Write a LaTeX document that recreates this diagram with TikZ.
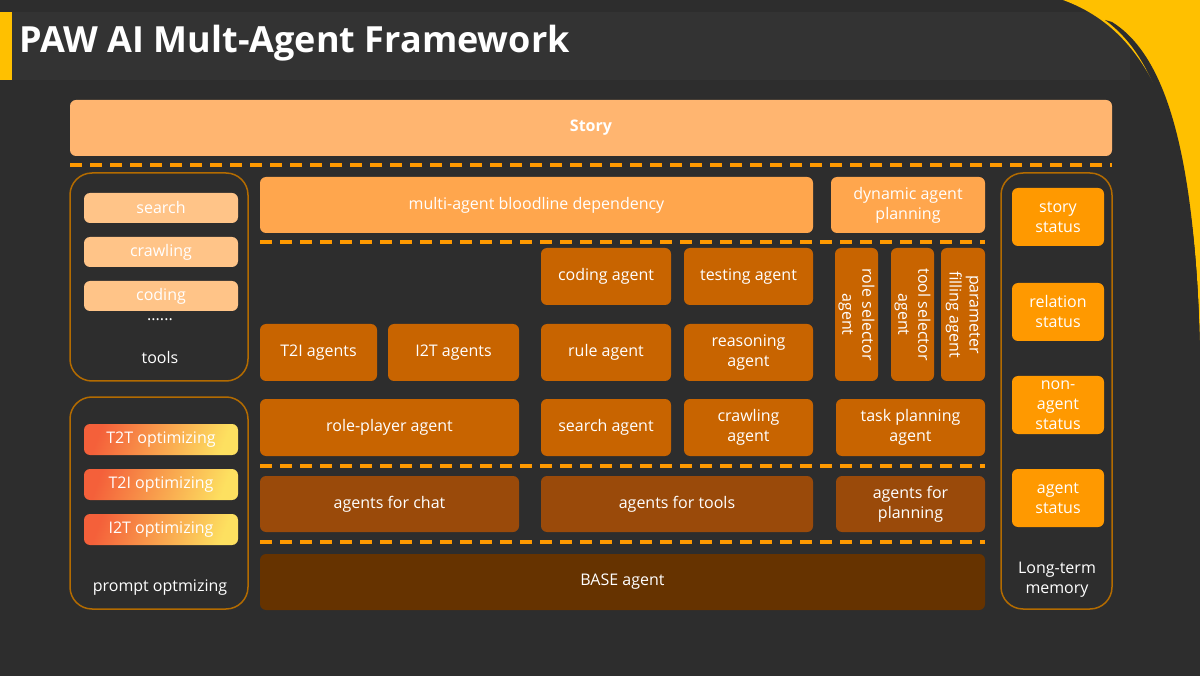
\documentclass[tikz,border=0pt]{standalone}
\usepackage{fontspec}
\setmainfont{Open Sans}
\definecolor{bgdark}{HTML}{2D2D2D}
\definecolor{band}{HTML}{333333}
\definecolor{gold}{HTML}{FFC000}
\definecolor{story}{HTML}{FFB570}
\definecolor{light}{HTML}{FFA64D}
\definecolor{pale}{HTML}{FFC488}
\definecolor{mid}{HTML}{C86400}
\definecolor{deep}{HTML}{9A4A0A}
\definecolor{base}{HTML}{663300}
\definecolor{memo}{HTML}{FF9900}
\definecolor{rim}{HTML}{B36B00}
\definecolor{dashcol}{HTML}{FF9900}
\definecolor{optA}{HTML}{F4603A}
\definecolor{optM}{HTML}{F9A848}
\definecolor{optB}{HTML}{FDE060}
\tikzset{
  blk/.style={rounded corners=6pt, inner sep=0pt, align=center, text=white,
    font=\fontsize{16}{20}\selectfont},
  panel/.style={draw=rim, line width=1.5pt, rounded corners=22pt},
  sep/.style={draw=dashcol, line width=4pt, dash pattern=on 12pt off 8pt},
  opt/.style={blk, left color=optA, middle color=optM, right color=optB, shading angle=70},
  lbl/.style={text=white, font=\fontsize{16}{20}\selectfont, align=center}
}
% box from corner (x1,y1) to (x2,y2)
\newcommand\blk[7][]{%
  \node[blk, fill=#2, minimum width={#5pt-#3pt}, minimum height={#6pt-#4pt}, #1]
    (#7) at ({(#3+#5)/2},{(#4+#6)/2}) {\csname txt#7\endcsname};}
% same, text turned to read downwards
\newcommand\vblk[6]{%
  \node[blk, fill=#1, rotate=-90, minimum width={#5pt-#3pt}, minimum height={#4pt-#2pt}]
    (#6) at ({(#2+#4)/2},{(#3+#5)/2}) {\csname txt#6\endcsname};}
\begin{document}
\begin{tikzpicture}[x=1pt, y=-1pt]
\fill[bgdark] (0,0) rectangle (1200,676);
\useasboundingbox (0,0) rectangle (1200,676);
% title band
\fill[band] (0,12) rectangle (1130,80);
\fill[gold] (0,12) rectangle (12,80);
\node[anchor=west, text=white, font=\fontsize{36}{40}\selectfont\bfseries] (title) at (16,43) {PAW AI Mult-Agent Framework};
% corner ornament
\fill[gold] (1063,0) .. controls (1160,35) and (1198,150) .. (1200,360) -- (1200,0) -- cycle;
\fill[bgdark] (1105,20) .. controls (1160,60) and (1188,150) .. (1192,360) -- (1200,360) -- (1200,350) .. controls (1195,150) and (1165,55) .. (1112,22) -- cycle;
% story
\def\txtstory{\bfseries Story}
\blk{story}{70}{100}{1112}{156}{story}
\draw[sep] (70,165) -- (1112,165);
% tools panel
\draw[panel] (70,173) rectangle (248,381);
\def\txtsearch{search}\def\txtcrawl{crawling}\def\txtcode{coding}
\blk{pale}{84}{193}{238}{223}{search}
\blk{pale}{84}{237}{238}{267}{crawl}
\blk{pale}{84}{281}{238}{311}{code}
\node[lbl] (dots) at (160,320) {......};
\node[lbl] (tools) at (160,357) {tools};
% prompt panel
\draw[panel] (70,397) rectangle (248,609);
\node[opt, minimum width=154pt, minimum height=31pt] (ttt) at (161,439.5) {T2T optimizing};
\node[opt, minimum width=154pt, minimum height=31pt] (tti) at (161,484.5) {T2I optimizing};
\node[opt, minimum width=154pt, minimum height=31pt] (itt) at (161,529.5) {I2T optimizing};
\node[lbl] (prompt) at (160,588) {prompt optmizing};
% central blocks
\def\txtblood{multi-agent bloodline dependency}
\def\txtdyn{dynamic agent\\planning}
\blk{light}{260}{177}{813}{233}{blood}
\blk{light}{831}{177}{985}{233}{dyn}
\draw[sep] (260,242) -- (985,242);
\def\txtcoding{coding agent}\def\txttesting{testing agent}
\blk{mid}{541}{248}{671}{305}{coding}
\blk{mid}{684}{248}{813}{305}{testing}
\def\txtrole{role selector\\agent}\def\txttool{tool selector\\agent}\def\txtparam{parameter\\filling agent}
\vblk{mid}{835}{248}{878}{381}{role}
\vblk{mid}{891}{248}{934}{381}{tool}
\vblk{mid}{941}{248}{985}{381}{param}
\def\txtttia{T2I agents}\def\txtitta{I2T agents}\def\txtrule{rule agent}\def\txtreason{reasoning\\agent}
\blk{mid}{260}{324}{377}{381}{ttia}
\blk{mid}{388}{324}{519}{381}{itta}
\blk{mid}{541}{324}{671}{381}{rule}
\blk{mid}{684}{324}{813}{381}{reason}
\def\txtplayer{role-player agent}\def\txtsagent{search agent}\def\txtcagent{crawling\\agent}\def\txttask{task planning\\agent}
\blk{mid}{260}{399}{519}{456}{player}
\blk{mid}{541}{399}{671}{456}{sagent}
\blk{mid}{684}{399}{813}{456}{cagent}
\blk{mid}{836}{399}{985}{456}{task}
\draw[sep] (260,466) -- (985,466);
\def\txtchat{agents for chat}\def\txtfortools{agents for tools}\def\txtplan{agents for\\planning}
\blk{deep}{260}{476}{519}{532}{chat}
\blk{deep}{541}{476}{813}{532}{fortools}
\blk{deep}{836}{476}{985}{532}{plan}
\draw[sep] (260,542) -- (985,542);
\def\txtbase{BASE agent}
\blk{base}{260}{554}{985}{610}{base}
% memory panel
\draw[panel] (1001,173) rectangle (1112,609);
\def\txtsst{story\\status}\def\txtrst{relation\\status}\def\txtnst{non-\\agent\\status}\def\txtast{agent\\status}
\blk{memo}{1012}{188}{1104}{246}{sst}
\blk{memo}{1012}{283}{1104}{341}{rst}
\blk{memo}{1012}{376}{1104}{434}{nst}
\blk{memo}{1012}{469}{1104}{527}{ast}
\node[lbl] (memory) at (1057,580) {Long-term\\memory};
\end{tikzpicture}
\end{document}
